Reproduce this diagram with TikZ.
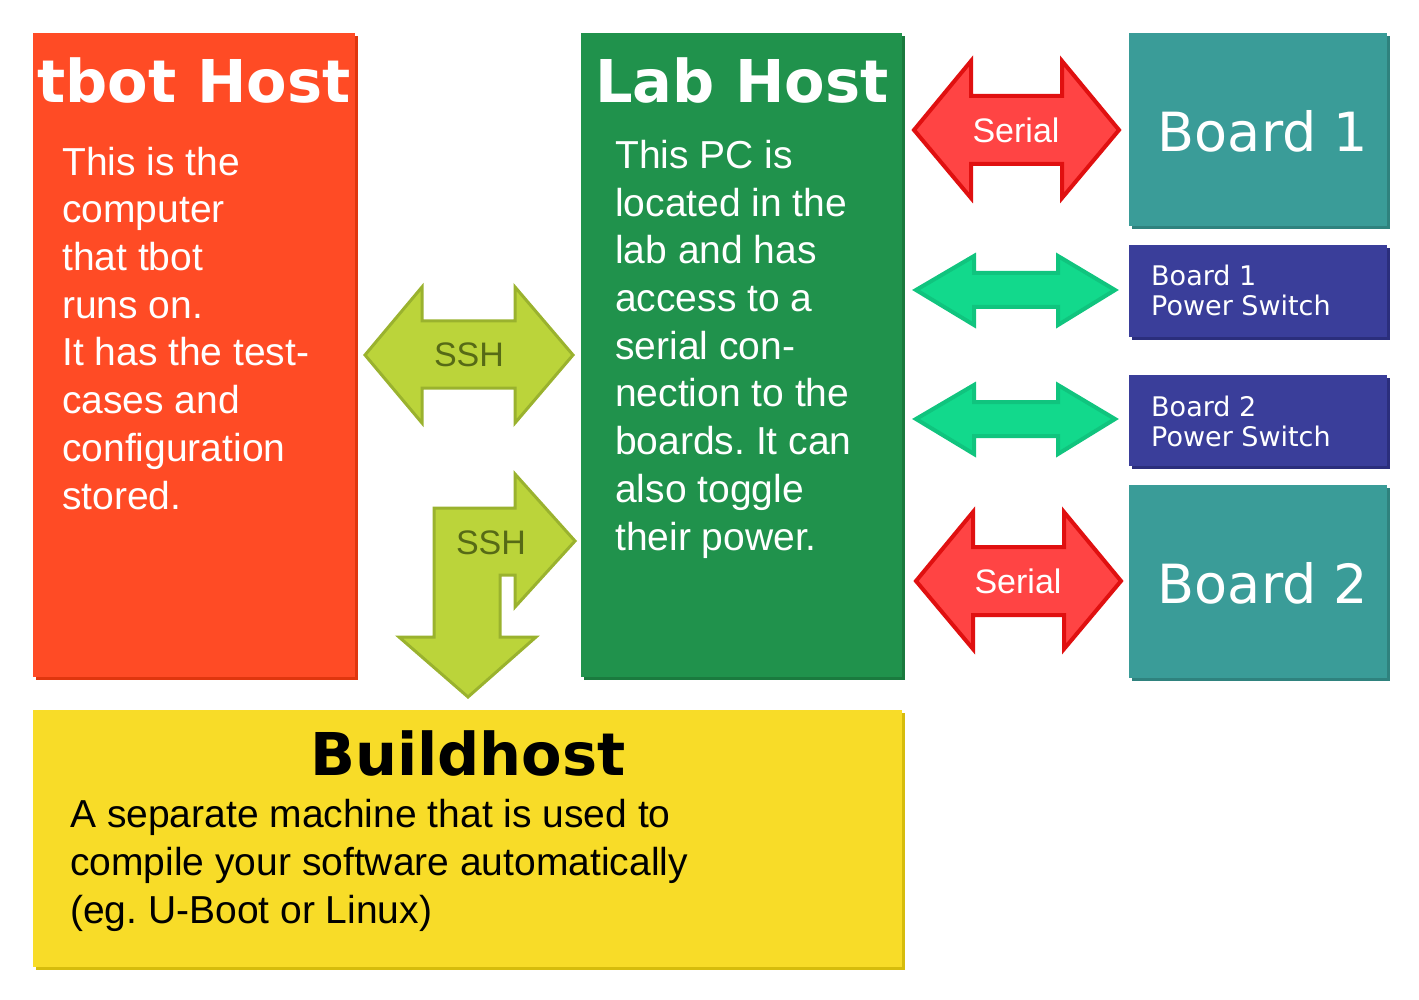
\documentclass[tikz,border=0pt]{standalone}
\usepackage{fontspec}
\setmainfont{Liberation Sans}
\newfontfamily\djv{DejaVu Sans}
\usetikzlibrary{shadows}
\frenchspacing
\definecolor{tbotc}{HTML}{FF4B25}
\definecolor{tbots}{HTML}{E0360E}
\definecolor{labc}{HTML}{20924C}
\definecolor{labs}{HTML}{1A7A3E}
\definecolor{boardc}{HTML}{3A9C98}
\definecolor{boards}{HTML}{2F827E}
\definecolor{pwrc}{HTML}{3A3E9A}
\definecolor{pwrs}{HTML}{2B2E7C}
\definecolor{buildc}{HTML}{F8DC28}
\definecolor{builds}{HTML}{D6BC0C}
\definecolor{sshfill}{HTML}{BBD43A}
\definecolor{sshline}{HTML}{9AB22E}
\definecolor{sshtext}{HTML}{566A16}
\definecolor{serfill}{HTML}{FF4444}
\definecolor{serline}{HTML}{E01010}
\definecolor{pwfill}{HTML}{12D98C}
\definecolor{pwline}{HTML}{10C47E}
\tikzset{
  boxbase/.style={rectangle, inner sep=0pt, anchor=north west, draw=none},
  tbotbox/.style={boxbase, fill=tbotc, general shadow={fill=tbots, shadow xshift=3pt, shadow yshift=-3pt}},
  labbox/.style={boxbase, fill=labc, general shadow={fill=labs, shadow xshift=3pt, shadow yshift=-3pt}},
  boardbox/.style={boxbase, fill=boardc, general shadow={fill=boards, shadow xshift=3pt, shadow yshift=-3pt}},
  pwrbox/.style={boxbase, fill=pwrc, general shadow={fill=pwrs, shadow xshift=3pt, shadow yshift=-3pt}},
  buildbox/.style={boxbase, fill=buildc, general shadow={fill=builds, shadow xshift=3pt, shadow yshift=-3pt}},
  title/.style={inner sep=0pt, anchor=base, font=\djv\bfseries\fontsize{59}{59}\selectfont},
  body/.style={inner sep=0pt, anchor=base west, align=left, font=\frenchspacing\fontsize{39}{47.7}\selectfont},
  boardtxt/.style={inner sep=0pt, anchor=base, text=white, font=\djv\fontsize{54}{54}\selectfont},
  pwrtxt/.style={inner sep=0pt, anchor=base west, align=left, text=white, font=\djv\fontsize{27}{30}\selectfont},
  ssharrow/.style={fill=sshfill, draw=sshline, line width=3pt, line join=miter},
  serarrow/.style={fill=serfill, draw=serline, line width=4pt, line join=miter},
  pwarrow/.style={fill=pwfill, draw=pwline, line width=4pt, line join=miter},
  arrlabel/.style={inner sep=0pt, font=\fontsize{34}{34}\selectfont},
}
\begin{document}
\begin{tikzpicture}[x=1pt,y=-1pt]
\useasboundingbox (0,0) rectangle (1419,1000);
% boxes
\node[tbotbox, minimum width=322pt, minimum height=644pt] (tbot) at (33,33) {};
\node[labbox, minimum width=321pt, minimum height=644pt] (lab) at (581,33) {};
\node[boardbox, minimum width=258pt, minimum height=193pt] (b1) at (1129,33) {};
\node[pwrbox, minimum width=258pt, minimum height=92pt] (p1) at (1129,245) {};
\node[pwrbox, minimum width=258pt, minimum height=91pt] (p2) at (1129,375) {};
\node[boardbox, minimum width=258pt, minimum height=193pt] (b2) at (1129,485) {};
\node[buildbox, minimum width=869pt, minimum height=257pt] (build) at (33,710) {};
% titles and texts (base anchor = baseline of the last line)
\node[title, text=white] (tbottitle) at (194,103) {tbot Host};
\node[body, text=white] (tbotbody) at (62,509) {This is the\\computer\\that tbot\\runs on.\\It has the test-\\cases and\\configuration\\stored.};
\node[title, text=white] (labtitle) at (742,103) {Lab Host};
\node[body, text=white] (labbody) at (615,550) {This PC is\\located in the\\lab and has\\access to a\\serial con-\\nection to the\\boards. It can\\also toggle\\their power.};
\node[boardtxt] (b1t) at (1263,152) {Board 1};
\node[boardtxt] (b2t) at (1263,603) {Board 2};
\node[pwrtxt] (p1t) at (1151,316) {Board 1\\Power Switch};
\node[pwrtxt] (p2t) at (1151,446) {Board 2\\Power Switch};
\node[title, text=black] (buildtitle) at (468,775) {Buildhost};
\node[body, text=black] (buildbody) at (70,923) {A separate machine that is used to\\compile your software automatically\\(eg. U-Boot or Linux)};
% SSH double arrow
\path[ssharrow] (365,355) -- (422,287) -- (422,321) -- (515,321) -- (515,287) -- (573,355) -- (515,423) -- (515,388) -- (422,388) -- (422,423) -- cycle;
\node[arrlabel, text=sshtext] (ssh1) at (469,355) {SSH};
% SSH L-shaped arrow
\path[ssharrow] (575,541) -- (515,607) -- (515,575) -- (500,575) -- (500,637) -- (536,637) -- (468,697) -- (399,637) -- (434,637) -- (434,508) -- (515,508) -- (515,474) -- cycle;
\node[arrlabel, text=sshtext] (ssh2) at (491,543) {SSH};
% Serial arrows
\path[serarrow] (914,130) -- (971,61) -- (971,96) -- (1062,96) -- (1062,61) -- (1119,130) -- (1062,198) -- (1062,164) -- (971,164) -- (971,198) -- cycle;
\node[arrlabel, text=white] (ser1) at (1016,130) {Serial};
\path[serarrow] (916,581) -- (973,512) -- (973,547) -- (1064,547) -- (1064,512) -- (1121,581) -- (1064,649) -- (1064,615) -- (973,615) -- (973,649) -- cycle;
\node[arrlabel, text=white] (ser2) at (1018,581) {Serial};
% power arrows
\path[pwarrow] (916,290) -- (974,256) -- (974,273) -- (1058,273) -- (1058,256) -- (1115,290) -- (1058,325) -- (1058,307) -- (974,307) -- (974,325) -- cycle;
\path[pwarrow] (916,419) -- (974,385) -- (974,402) -- (1058,402) -- (1058,385) -- (1115,419) -- (1058,454) -- (1058,436) -- (974,436) -- (974,454) -- cycle;
\end{tikzpicture}
\end{document}
